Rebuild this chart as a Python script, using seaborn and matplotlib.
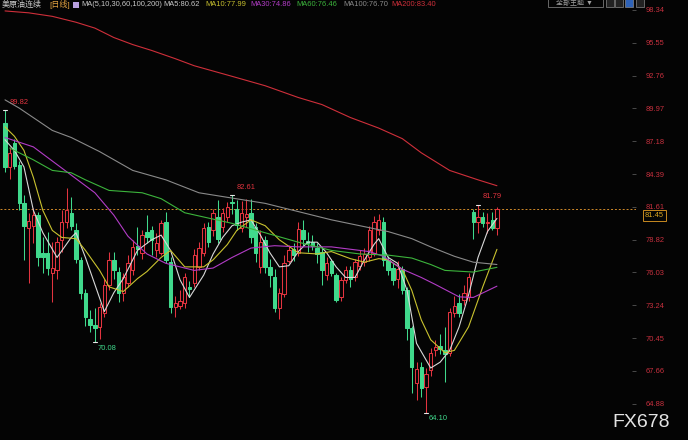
import matplotlib
matplotlib.use("Agg")
import matplotlib.pyplot as plt
import seaborn as sns
from matplotlib.patches import Rectangle

W, H = 688, 440

# daily candles, first visible day = 0
opens = [88.7, 85.0, 87.0, 85.2, 81.9, 79.8, 80.0, 80.9, 77.7, 77.7,
         76.0, 76.2, 78.8, 80.3, 81.1, 79.6, 77.1, 74.3, 72.1, 71.6,
         71.4, 72.6, 75.0, 77.1, 76.1, 74.3, 75.1, 76.2, 78.3, 77.7,
         79.5, 79.6, 77.9, 77.7, 80.3, 76.9, 73.1, 73.2, 73.4, 74.8,
         75.1, 76.5, 77.7, 79.9, 79.6, 80.7, 79.9, 80.7, 82.0, 81.4,
         79.8, 80.7, 81.1, 79.9, 76.5, 78.8, 76.5, 75.6, 73.0, 74.2,
         77.0, 78.0, 77.7, 79.6, 78.7, 78.6, 78.1, 77.8, 75.8, 77.0,
         75.8, 73.9, 75.4, 76.2, 75.6, 76.6, 76.9, 77.3, 77.7, 79.6,
         80.3, 77.1, 76.4, 75.5, 76.3, 74.5, 71.3, 66.6, 68.0, 66.3,
         67.7, 69.4, 69.8, 69.4, 69.2, 72.6, 73.4, 73.7, 73.9, 81.2,
         80.3, 80.7, 80.2, 80.5, 79.8]
highs = [89.82, 86.7, 87.4, 85.5, 82.6, 81.1, 81.5, 81.2, 79.0, 79.5,
         78.6, 79.0, 81.3, 83.2, 82.4, 80.2, 77.3, 74.6, 72.8, 73.0,
         73.4, 75.5, 77.8, 77.8, 76.5, 76.0, 77.5, 78.8, 79.9, 79.6,
         80.9, 80.0, 79.4, 80.5, 81.2, 77.3, 74.0, 74.5, 76.0, 75.3,
         78.0, 78.6, 80.2, 80.3, 81.4, 82.2, 81.5, 82.0, 82.61, 82.2,
         82.1, 82.3, 82.3, 80.2, 79.6, 79.1, 77.2, 76.3, 74.7, 77.5,
         78.4, 78.5, 80.3, 80.5, 79.5, 79.2, 78.5, 78.2, 77.3, 77.2,
         76.0, 75.6, 76.6, 76.6, 77.2, 77.9, 78.1, 80.0, 80.8, 81.0,
         80.7, 77.4, 76.8, 77.0, 76.6, 74.8, 71.5, 68.4, 68.4, 67.9,
         69.6, 70.3, 70.8, 71.4, 73.0, 74.0, 74.2, 75.0, 76.0, 81.4,
         81.79, 81.2, 81.1, 81.2, 81.61]
lows = [84.6, 84.0, 84.8, 81.3, 77.1, 75.1, 78.5, 76.6, 76.0, 75.8,
        73.5, 75.5, 77.8, 79.8, 79.6, 76.8, 73.8, 71.5, 71.0, 70.08,
        70.4, 72.2, 74.5, 75.5, 73.5, 73.6, 74.8, 75.8, 77.5, 77.2,
        78.5, 77.5, 77.3, 77.5, 76.8, 72.6, 72.2, 72.9, 73.0, 73.9,
        74.8, 76.2, 77.4, 78.2, 79.1, 78.5, 79.5, 80.3, 81.0, 79.6,
        79.5, 79.9, 78.5, 76.9, 76.0, 76.0, 74.8, 72.7, 72.1, 73.9,
        76.8, 77.0, 77.4, 78.3, 77.8, 77.9, 76.8, 75.0, 75.4, 75.7,
        73.5, 73.6, 75.1, 74.8, 75.3, 76.2, 76.6, 77.0, 77.4, 79.2,
        76.6, 75.8, 75.0, 74.7, 74.2, 70.3, 65.8, 65.2, 65.4, 64.10,
        67.2, 68.9, 69.1, 66.7, 68.9, 72.2, 72.2, 73.3, 73.6, 78.9,
        79.4, 79.9, 79.4, 79.6, 79.2]
closes = [85.0, 86.2, 85.1, 81.9, 80.0, 80.4, 80.9, 77.3, 77.3, 76.4,
          76.4, 78.6, 80.3, 81.3, 80.0, 77.2, 74.3, 72.2, 71.6, 71.3,
          73.1, 75.0, 77.1, 76.2, 74.3, 75.6, 76.8, 78.2, 78.0, 79.2,
          79.0, 78.8, 78.5, 80.2, 77.1, 73.1, 73.4, 73.6, 75.6, 74.6,
          77.5, 78.1, 79.8, 78.6, 81.1, 78.9, 81.1, 81.6, 81.9, 80.1,
          81.1, 81.0, 79.0, 77.7, 78.6, 76.5, 75.8, 73.0, 74.3, 76.8,
          77.9, 77.5, 79.7, 78.9, 78.5, 78.3, 77.6, 76.2, 76.8, 76.0,
          73.7, 75.4, 76.2, 75.5, 76.9, 77.4, 77.6, 79.6, 80.3, 80.5,
          77.1, 76.2, 75.4, 76.3, 74.5, 71.3, 68.0, 67.8, 66.2, 67.4,
          69.2, 69.7, 69.5, 69.1, 72.7, 73.2, 72.6, 74.3, 75.6, 80.3,
          80.7, 80.2, 80.35, 79.8, 81.45]

# moving averages, sampled along the chart (day, value)
ma5_days = [0, 2, 4, 6, 8, 11, 14, 15, 17, 19, 21, 23, 25, 28, 31, 33, 35, 37,
            39, 42, 44, 46, 48, 50, 52, 54, 56, 58, 60, 62, 64, 66, 68, 70, 72,
            74, 76, 78, 79, 81, 83, 85, 87, 90, 92, 94, 96, 98, 100, 102, 104]
ma5_vals = [87.3, 86.4, 85.0, 81.3, 79.4, 77.3, 79.0, 79.4, 77.3, 75.0, 72.7,
            74.3, 75.5, 77.9, 78.8, 79.2, 77.9, 75.4, 73.9, 75.8, 77.6, 79.0,
            80.0, 80.3, 80.5, 79.2, 77.7, 76.5, 76.6, 77.8, 78.6, 78.6, 77.7,
            76.5, 75.6, 75.6, 77.1, 78.4, 78.9, 77.3, 76.8, 74.5, 70.0, 67.9,
            68.4, 69.4, 71.4, 74.1, 77.3, 79.5, 80.62]
ma10_days = [0, 2, 4, 6, 8, 10, 12, 15, 17, 20, 22, 25, 28, 30, 33, 35, 38, 42,
             44, 47, 49, 52, 55, 58, 62, 66, 69, 73, 76, 79, 81, 84, 86, 88, 90,
             93, 95, 98, 101, 104]
ma10_vals = [88.4, 87.6, 86.4, 84.1, 81.3, 79.6, 79.0, 78.9, 77.9, 76.2, 74.8,
             74.4, 75.5, 76.1, 77.3, 77.9, 76.5, 76.5, 77.1, 78.4, 79.6, 80.5,
             80.0, 78.8, 77.7, 77.6, 77.8, 77.2, 76.9, 77.2, 77.1, 76.3, 74.5,
             72.0, 70.3, 69.2, 69.4, 71.4, 74.8, 77.99]
ma30_days = [0, 6, 13, 19, 23, 26, 30, 34, 40, 44, 48, 52, 57, 62, 69, 77, 80,
             84, 88, 91, 96, 99, 104]
ma30_vals = [87.5, 86.7, 84.6, 82.8, 80.9, 79.1, 77.6, 76.8, 76.2, 76.4, 77.3,
             78.1, 78.3, 78.2, 78.2, 77.8, 77.4, 76.3, 75.6, 75.0, 73.95, 73.9,
             74.86]
ma60_days = [1, 6, 10, 14, 17, 22, 29, 33, 38, 48, 55, 62, 69, 75, 81, 86, 90,
             93, 99, 104]
ma60_vals = [86.6, 85.6, 84.7, 84.5, 83.9, 83.0, 82.8, 82.3, 81.1, 80.2, 79.4,
             78.6, 77.9, 77.6, 77.5, 77.25, 76.7, 76.2, 76.06, 76.46]
ma100_days = [0, 3, 10, 14, 20, 27, 34, 41, 48, 55, 62, 69, 75, 81, 86, 90, 95,
              99, 104]
ma100_vals = [90.7, 90.0, 88.1, 87.5, 86.3, 84.7, 83.9, 82.8, 82.35, 81.9, 81.2,
              80.5, 80.0, 79.5, 78.9, 78.2, 77.4, 76.9, 76.70]
ma200_days = [0, 5, 10, 15, 19, 23, 27, 31, 36, 40, 48, 55, 62, 67, 73, 79, 84,
              88, 94, 100, 104]
ma200_vals = [98.26, 98.1, 97.8, 97.3, 96.8, 96.0, 95.4, 94.9, 94.2, 93.6, 92.7,
              91.9, 90.9, 90.3, 89.2, 88.3, 87.4, 86.2, 84.7, 83.9, 83.4]

ma_names = ["MA5", "MA10", "MA30", "MA60", "MA100", "MA200"]
ma_last = [80.62, 77.99, 74.86, 76.46, 76.70, 83.40]
ma_colors = ["#d8d8d8", "#c9c22f", "#b23cc6", "#3cb43c", "#8a8a8a", "#cf2f3a"]

ytick_vals = [98.34, 95.55, 92.76, 89.97, 87.18, 84.39, 81.61,
              78.82, 76.03, 73.24, 70.45, 67.66, 64.88]
last_price = 81.45

peak_days = [0, 48, 100]
peak_vals = [89.82, 82.61, 81.79]
trough_days = [19, 89]
trough_vals = [70.08, 64.10]

BG = "#040404"
RED = "#e2343f"
GREEN = "#40d98c"

sns.set_theme(style="dark", rc={"axes.facecolor": BG, "figure.facecolor": BG})
plt.rcParams["font.family"] = ["Liberation Sans", "Noto Sans CJK SC", "DejaVu Sans"]

fig = plt.figure(figsize=(W / 100, H / 100), dpi=100)
ax = fig.add_axes([0, 0, 636 / W, 1])
ax.set_facecolor(BG)

# candles: red hollow = up, green filled = down
for d in range(len(closes)):
    o, h, l, c = opens[d], highs[d], lows[d], closes[d]
    up = c >= o
    col = RED if up else GREEN
    ax.vlines(d, l, h, color=col, lw=0.75, zorder=2)
    lo, hi = min(o, c), max(o, c)
    ax.add_patch(Rectangle((d - 0.36, lo), 0.72, max(hi - lo, 0.06),
                           facecolor=BG if up else col, edgecolor=col,
                           lw=0.75, zorder=3))

ma_days = [ma5_days, ma10_days, ma30_days, ma60_days, ma100_days, ma200_days]
ma_vals = [ma5_vals, ma10_vals, ma30_vals, ma60_vals, ma100_vals, ma200_vals]
for dd, vv, col in zip(ma_days, ma_vals, ma_colors):
    sns.lineplot(x=dd, y=vv, color=col, lw=0.8, ax=ax, zorder=4)

ax.axhline(last_price, color="#d08a2a", lw=0.7, ls=(0, (2, 2)), zorder=1)

# high / low markers
for d, v in zip(peak_days, peak_vals):
    ax.plot([d - 0.5, d + 0.5], [v, v], color="#e8e8e8", lw=0.8, zorder=5)
    ax.annotate(f"{v:.2f}", xy=(d, v), xytext=(3, 3), textcoords="offset points",
                color=RED, fontsize=5.4, va="bottom", ha="left")
for d, v in zip(trough_days, trough_vals):
    ax.plot([d - 0.5, d + 0.5], [v, v], color="#e8e8e8", lw=0.8, zorder=5)
    ax.annotate(f"{v:.2f}", xy=(d, v), xytext=(2, -2), textcoords="offset points",
                color=GREEN, fontsize=5.4, va="top", ha="left")

ax.set_xlim(-1.06, 133.4)
ax.set_ylim(61.78, 99.19)
ax.grid(False)
for s in ax.spines.values():
    s.set_visible(False)
ax.set_xticks([])
ax.yaxis.tick_right()
ax.set_yticks(ytick_vals, labels=[f"{v:.2f}" for v in ytick_vals])
ax.tick_params(axis="y", direction="in", length=3, width=0.6, color="#555555",
               labelcolor="#c8303e", labelsize=5.4, pad=7)
ax.set_xlabel("")
ax.set_ylabel("")

# current price box
fig.text(645 / W, 1 - 215.5 / H, f"{last_price:.2f}", color="#d9a520", fontsize=5.4,
         va="center", ha="left",
         bbox=dict(boxstyle="square,pad=0.25", fc=BG, ec="#c88a20", lw=0.7))

# legend row
ty = 1 - 4.5 / H
fig.text(2 / W, ty, "美原油连续", color="#c8c8c8", fontsize=5.8, va="center")
fig.text(49 / W, ty, "[日线]", color="#e0a040", fontsize=5.8, va="center")
fig.patches.append(Rectangle((73 / W, 1 - 8 / H), 6 / W, 6 / H, transform=fig.transFigure,
                             fc="#b8a0e0", ec="none"))
fig.text(81 / W, ty, "MA(5,10,30,60,100,200)", color="#c8c8c8", fontsize=5.4, va="center")
leg_x = [163, 205, 250, 296, 343, 391]
leg_cols = ["#c8c8c8", "#c9c22f", "#b23cc6", "#3cb43c", "#8a8a8a", "#cf2f3a"]
for x, name, val, col in zip(leg_x, ma_names, ma_last, leg_cols):
    fig.text(x / W, ty, f"{name}:{val:.2f}", color=col, fontsize=5.4, va="center")

# top-right buttons
fig.patches.append(Rectangle((548 / W, 1 - 7 / H), 55 / W, 9 / H, transform=fig.transFigure,
                             fc=BG, ec="#777777", lw=0.6))
fig.text(556 / W, 1 - 3 / H, "全部主题 ▼", color="#a0a0a0", fontsize=5, va="center")
for x0, fc in [(606, "#222222"), (615, "#222222"), (625, "#2f63b8"), (636, "#222222")]:
    fig.patches.append(Rectangle((x0 / W, 1 - 7 / H), 8 / W, 8 / H, transform=fig.transFigure,
                                 fc=fc, ec="#888888", lw=0.5))

# watermark
fig.text(612 / W, 1 - 422 / H, "FX678", color="#e4e4e4", fontsize=14,
         va="center", ha="left", family=["Liberation Sans Narrow", "Liberation Sans"])

fig.savefig("out.png", dpi=100, facecolor=BG)
